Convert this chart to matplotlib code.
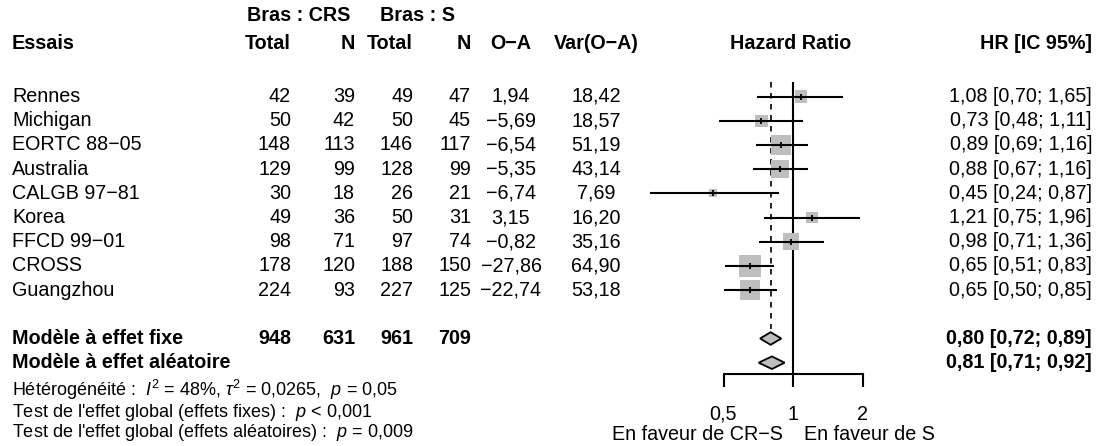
import numpy as np
import matplotlib
matplotlib.use("Agg")
import matplotlib.pyplot as plt
from matplotlib.transforms import blended_transform_factory
from matplotlib.patches import Polygon

# ---------------- data ----------------
studies = ["Rennes", "Michigan", "EORTC 88−05", "Australia", "CALGB 97−81",
           "Korea", "FFCD 99−01", "CROSS", "Guangzhou"]
crs_total = [42, 50, 148, 129, 30, 49, 98, 178, 224]
crs_n = [39, 42, 113, 99, 18, 36, 71, 120, 93]
s_total = [49, 50, 146, 128, 26, 50, 97, 188, 227]
s_n = [47, 45, 117, 99, 21, 31, 74, 150, 125]
o_minus_a = [1.94, -5.69, -6.54, -5.35, -6.74, 3.15, -0.82, -27.86, -22.74]
var_oa = [18.42, 18.57, 51.19, 43.14, 7.69, 16.20, 35.16, 64.90, 53.18]
hr = [1.08, 0.73, 0.89, 0.88, 0.45, 1.21, 0.98, 0.65, 0.65]
hr_lo = [0.70, 0.48, 0.69, 0.67, 0.24, 0.75, 0.71, 0.51, 0.50]
hr_hi = [1.65, 1.11, 1.16, 1.16, 0.87, 1.96, 1.36, 0.83, 0.85]

fixed_totals = [948, 631, 961, 709]
fixed_hr = [0.80, 0.72, 0.89]
random_hr = [0.81, 0.71, 0.92]

axis_ticks = [0.5, 1, 2]
axis_ticklabels = ["0,5", "1", "2"]
label_left = "En faveur de CR−S"
label_right = "En faveur de S"

het_text = "Hétérogénéité :  $I^2$ = 48%, $\\tau^2$ = 0,0265,  $p$ = 0,05"
test_fixed = "Test de l'effet global (effets fixes) :  $p$ < 0,001"
test_random = "Test de l'effet global (effets aléatoires) :  $p$ = 0,009"

# ---------------- style ----------------
plt.rcParams["font.family"] = ["Liberation Sans", "DejaVu Sans"]
plt.rcParams["mathtext.fontset"] = "custom"
plt.rcParams["mathtext.rm"] = "Liberation Sans"
plt.rcParams["mathtext.it"] = "Liberation Sans:italic"
plt.rcParams["mathtext.bf"] = "Liberation Sans:bold"

FS = 14.2
FS_SMALL = 13.0
W_PX, H_PX = 1101, 446


def fmt(v):
    return f"{v:.2f}".replace(".", ",").replace("-", "−")


def ci_text(vals):
    return f"{fmt(vals[0])} [{fmt(vals[1])}; {fmt(vals[2])}]"


fig = plt.figure(figsize=(W_PX / 100, H_PX / 100), dpi=100)

# forest axes: log2 x-scale, rows on y
x_ref_px, px_per_doubling = 793.0, 69.5
xmin, xmax = 0.2, 2.2
left_px = x_ref_px + np.log2(xmin) * px_per_doubling
right_px = x_ref_px + np.log2(xmax) * px_per_doubling
y0_px, dy_px = 96.5, 24.2
ytop = -y0_px / dy_px
ybot = (H_PX - y0_px) / dy_px
ax = fig.add_axes([left_px / W_PX, 0, (right_px - left_px) / W_PX, 1])
ax.set_xscale("log", base=2)
ax.set_xlim(xmin, xmax)
ax.set_ylim(ybot, ytop)
ax.axis("off")

tr = blended_transform_factory(fig.transFigure, ax.transData)


def px(x):
    return x / W_PX


n = len(studies)
rows = np.arange(n)
r_fixed = n + 1
r_random = n + 2
r_header = -2.17
r_bras = -3.33
r_axis = 11.47
r_tick = 12.0
r_ticklab = 13.12
r_lab = 13.95

# ----- header -----
hb = dict(fontsize=FS, fontweight="bold", va="center", transform=tr)
fig.text(px(12), r_header, "Essais", ha="left", **hb)
fig.text(px(299), r_bras, "Bras : CRS", ha="center", **hb)
fig.text(px(418), r_bras, "Bras : S", ha="center", **hb)
fig.text(px(291), r_header, "Total", ha="right", **hb)
fig.text(px(355), r_header, "N", ha="right", **hb)
fig.text(px(413), r_header, "Total", ha="right", **hb)
fig.text(px(471), r_header, "N", ha="right", **hb)
fig.text(px(511), r_header, "O−A", ha="center", **hb)
fig.text(px(596), r_header, "Var(O−A)", ha="center", **hb)
fig.text(px(791), r_header, "Hazard Ratio", ha="center", **hb)
fig.text(px(1092), r_header, "HR [IC 95%]", ha="right", **hb)

# ----- study rows -----
tn = dict(fontsize=FS, va="center", transform=tr)
for i in range(n):
    r = rows[i]
    fig.text(px(12), r, studies[i], ha="left", **tn)
    fig.text(px(291), r, str(crs_total[i]), ha="right", **tn)
    fig.text(px(355), r, str(crs_n[i]), ha="right", **tn)
    fig.text(px(413), r, str(s_total[i]), ha="right", **tn)
    fig.text(px(471), r, str(s_n[i]), ha="right", **tn)
    fig.text(px(511), r, fmt(o_minus_a[i]), ha="center", **tn)
    fig.text(px(596), r, fmt(var_oa[i]), ha="center", **tn)
    fig.text(px(1092), r, ci_text([hr[i], hr_lo[i], hr_hi[i]]), ha="right", **tn)

# ----- summary rows -----
fig.text(px(12), r_fixed, "Modèle à effet fixe", ha="left", **hb)
fig.text(px(12), r_random, "Modèle à effet aléatoire", ha="left", **hb)
for xx, v in zip([291, 355, 413, 471], fixed_totals):
    fig.text(px(xx), r_fixed, str(v), ha="right", **hb)
fig.text(px(1092), r_fixed, ci_text(fixed_hr), ha="right", **hb)
fig.text(px(1092), r_random, ci_text(random_hr), ha="right", **hb)

# ----- heterogeneity / tests -----
ts = dict(fontsize=FS_SMALL, va="center", ha="left", transform=tr)
fig.text(px(12), 12.13, het_text, **ts)
fig.text(px(12), 13.04, test_fixed, **ts)
fig.text(px(12), 13.9, test_random, **ts)

# ----- forest -----
LW = 1.5
# reference line at 1
ax.plot([1, 1], [-0.6, r_axis], color="black", lw=LW, solid_capstyle="butt", zorder=2)
# fixed effect dashed line
ax.plot([fixed_hr[0]] * 2, [-0.6, 9.6], color="black", lw=1.2,
        linestyle=(0, (3.3, 3.3)), zorder=2)

vmax = max(var_oa)
max_side_pt = 21.0 * 0.72
sizes = [(max_side_pt * np.sqrt(v / vmax) + 0.8) ** 2 for v in var_oa]
ax.scatter(hr, rows, s=sizes, marker="s", color="#BEBEBE", linewidths=0, zorder=3)
ax.hlines(rows, hr_lo, hr_hi, color="black", lw=LW, zorder=4)
ax.plot(hr, rows, linestyle="none", marker="|", color="black",
        markersize=5, markeredgewidth=1.3, zorder=5)

# diamonds
h = 0.26
for r, (est, lo, hi) in [(r_fixed, fixed_hr), (r_random, random_hr)]:
    poly = Polygon([(lo, r), (est, r - h), (hi, r), (est, r + h)], closed=True,
                   facecolor="#BEBEBE", edgecolor="black", lw=1.3, zorder=4)
    ax.add_patch(poly)

# bottom axis
ax.plot([axis_ticks[0], axis_ticks[-1]], [r_axis, r_axis], color="black", lw=LW,
        solid_capstyle="projecting", zorder=2)
for t, lab in zip(axis_ticks, axis_ticklabels):
    ax.plot([t, t], [r_axis, r_tick], color="black", lw=LW, solid_capstyle="butt")
    ax.text(t, r_ticklab, lab, ha="center", va="center", fontsize=FS)

ax.text(1 / (2 ** (10 / px_per_doubling)), r_lab, label_left, ha="right", va="center", fontsize=FS)
ax.text(2 ** (11 / px_per_doubling), r_lab, label_right, ha="left", va="center", fontsize=FS)

fig.savefig("out.png", dpi=100)
